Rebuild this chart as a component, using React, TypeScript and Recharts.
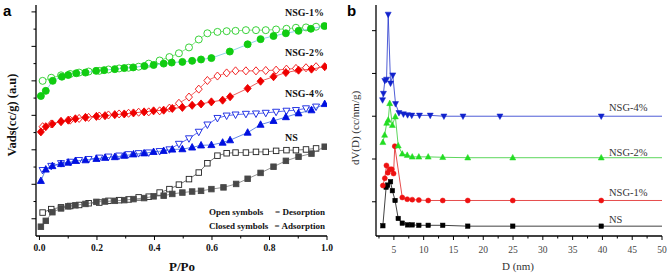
import React from 'react';
import { ScatterChart, Scatter, XAxis, YAxis } from 'recharts';

const SERIF = "'Liberation Serif', 'Times New Roman', serif";
const SANS = "'Liberation Sans', Arial, sans-serif";

// ---- panel a: N2 isotherms (stacked, a.u.) ----
const desP = [0.011, 0.041, 0.075, 0.107, 0.138, 0.171, 0.208, 0.24, 0.277, 0.31, 0.345, 0.38, 0.418, 0.452, 0.485, 0.52, 0.554, 0.584, 0.619, 0.651, 0.682, 0.718, 0.753, 0.787, 0.823, 0.859, 0.892, 0.927, 0.962];
const adsP_NS = [0.005, 0.022, 0.045, 0.075, 0.1, 0.125, 0.16, 0.198, 0.228, 0.262, 0.295, 0.327, 0.364, 0.397, 0.432, 0.462, 0.497, 0.531, 0.562, 0.598, 0.64, 0.684, 0.724, 0.769, 0.814, 0.857, 0.901, 0.946, 0.992];
const adsP_G = [0.005, 0.022, 0.045, 0.075, 0.1, 0.125, 0.16, 0.198, 0.228, 0.262, 0.295, 0.327, 0.364, 0.397, 0.432, 0.462, 0.497, 0.531, 0.562, 0.598, 0.637, 0.663, 0.724, 0.769, 0.814, 0.857, 0.901, 0.946, 0.992];
const adsP_1 = [0.005, 0.022, 0.046, 0.078, 0.1, 0.128, 0.16, 0.197, 0.225, 0.262, 0.295, 0.326, 0.365, 0.397, 0.432, 0.46, 0.497, 0.531, 0.562, 0.598, 0.662, 0.724, 0.769, 0.814, 0.857, 0.901, 0.944, 0.991];

const nsAds = [0.27, 0.44, 0.69, 0.8, 0.86, 0.89, 0.93, 0.99, 1.0, 1.02, 1.04, 1.07, 1.1, 1.15, 1.17, 1.22, 1.26, 1.29, 1.31, 1.36, 1.41, 1.51, 1.66, 1.83, 2.01, 2.18, 2.3, 2.39, 2.59];
const nsDes = [0.68, 0.78, 0.83, 0.87, 0.9, 0.95, 0.97, 1.02, 1.04, 1.06, 1.12, 1.14, 1.26, 1.36, 1.49, 1.65, 1.84, 2.11, 2.33, 2.4, 2.42, 2.42, 2.44, 2.44, 2.47, 2.49, 2.49, 2.51, 2.54];
const g4Ads = [1.6, 1.93, 2.03, 2.09, 2.13, 2.18, 2.2, 2.24, 2.27, 2.29, 2.33, 2.37, 2.4, 2.44, 2.47, 2.51, 2.52, 2.57, 2.63, 2.64, 2.71, 2.78, 3.0, 3.23, 3.34, 3.45, 3.56, 3.65, 3.83];
const g4Des = [1.91, 2.03, 2.11, 2.15, 2.2, 2.23, 2.27, 2.3, 2.33, 2.37, 2.4, 2.42, 2.46, 2.51, 2.67, 2.83, 3.02, 3.23, 3.42, 3.49, 3.52, 3.54, 3.55, 3.57, 3.6, 3.63, 3.65, 3.7, 3.75];
const g2Ads = [3.02, 3.17, 3.25, 3.32, 3.36, 3.4, 3.44, 3.47, 3.49, 3.52, 3.54, 3.57, 3.6, 3.63, 3.65, 3.7, 3.73, 3.79, 3.83, 3.89, 3.94, 4.04, 4.28, 4.49, 4.62, 4.74, 4.81, 4.84, 4.91];
const g2Des = [3.17, 3.25, 3.32, 3.36, 3.41, 3.44, 3.48, 3.51, 3.54, 3.56, 3.59, 3.6, 3.63, 3.71, 3.85, 4.03, 4.26, 4.51, 4.64, 4.73, 4.79, 4.79, 4.79, 4.8, 4.81, 4.84, 4.86, 4.88, 4.91];
const g1Ads = [4.06, 4.21, 4.5, 4.62, 4.67, 4.72, 4.74, 4.79, 4.81, 4.84, 4.87, 4.89, 4.93, 4.96, 5.0, 5.03, 5.05, 5.08, 5.12, 5.16, 5.35, 5.56, 5.71, 5.8, 5.88, 5.95, 6.01, 6.09];
const g1Des = [4.5, 4.59, 4.66, 4.7, 4.74, 4.77, 4.79, 4.83, 4.86, 4.88, 4.91, 5.0, 5.09, 5.19, 5.3, 5.47, 5.7, 5.88, 5.92, 5.94, 5.95, 5.97, 5.97, 5.97, 5.99, 6.01, 6.04, 6.05, 6.07];

const xTicksA = [0, 0.1, 0.2, 0.3, 0.4, 0.5, 0.6, 0.7, 0.8, 0.9, 1.0];
const yTicksA = [0.5, 1, 1.5, 2, 2.5, 3, 3.5, 4, 4.5, 5, 5.5, 6, 6.5];

// ---- panel b: pore size distribution (stacked) ----
const nsD = [3.15, 3.7, 3.95, 4.44, 4.75, 5.2, 5.73, 6.41, 7.3, 8.08, 9.19, 10.76, 13.2, 17.4, 24.95, 39.8, 50];
const nsV = [0.44, 1.34, 1.39, 1.47, 1.26, 1.03, 0.61, 0.5, 0.46, 0.46, 0.45, 0.45, 0.45, 0.43, 0.43, 0.43, 0.43];
const g1D = [3.15, 3.48, 3.75, 3.99, 4.32, 4.65, 4.95, 5.15, 6.41, 7.24, 8.08, 9.19, 10.76, 13.2, 17.4, 24.95, 39.8, 50];
const g1V = [1.38, 1.55, 1.85, 1.68, 1.76, 1.76, 1.66, 2.3, 1.1, 1.06, 1.05, 1.04, 1.03, 1.03, 1.03, 1.03, 1.03, 1.03];
const g2D = [3.15, 3.45, 3.8, 4.05, 4.3, 4.74, 5.25, 5.73, 6.41, 7.24, 8.08, 9.19, 10.76, 13.2, 17.4, 24.95, 39.8, 50];
const g2V = [2.39, 2.56, 2.84, 2.91, 3.3, 2.79, 2.99, 2.31, 2.12, 2.09, 2.05, 2.05, 2.05, 2.04, 2.03, 2.03, 2.03, 2.03];
const g4D = [3.1, 3.25, 3.48, 3.77, 4.05, 4.44, 4.82, 5.28, 5.85, 6.6, 7.3, 8.0, 9.3, 11.1, 13.4, 16.6, 22.8, 39.8, 50];
const g4V = [3.38, 3.53, 3.83, 3.86, 5.38, 3.77, 3.96, 3.29, 3.08, 3.05, 3.03, 3.02, 3.02, 3.02, 3.0, 3.0, 3.0, 3.0, 3.0];

const xTicksB = [2.5, 5, 7.5, 10, 12.5, 15, 17.5, 20, 22.5, 25, 27.5, 30, 32.5, 35, 37.5, 40, 42.5, 45, 47.5, 50];
const yTicksB = [1, 2, 3, 4, 5];

const pts = (xs: number[], ys: number[], end?: number) =>
  xs.map((x, i) => ({ x, y: ys[i], noMark: end !== undefined && x >= end }));

type Kind = 'circle' | 'square' | 'diamond' | 'up' | 'down';

function marker(kind: Kind, color: string, open: boolean, s: number, sw = 0.9) {
  return (p: any) => {
    const { cx, cy, payload } = p;
    if (cx == null || cy == null || (payload && payload.noMark)) return <g />;
    const fill = open ? '#fff' : color;
    const h = s / 2;
    const common = { fill, stroke: color, strokeWidth: sw };
    if (kind === 'circle') return <circle cx={cx} cy={cy} r={h} {...common} />;
    if (kind === 'square') return <rect x={cx - h} y={cy - h} width={s} height={s} {...common} />;
    if (kind === 'diamond')
      return <polygon points={`${cx},${cy - h * 1.15} ${cx + h},${cy} ${cx},${cy + h * 1.15} ${cx - h},${cy}`} {...common} />;
    if (kind === 'up')
      return <polygon points={`${cx},${cy - h * 1.1} ${cx + h},${cy + h * 0.75} ${cx - h},${cy + h * 0.75}`} {...common} />;
    return <polygon points={`${cx},${cy + h * 1.1} ${cx + h},${cy - h * 0.75} ${cx - h},${cy - h * 0.75}`} {...common} />;
  };
}

const xTickA = (p: any) => {
  const v = p.payload.value;
  const major = Math.round(v * 10) % 2 === 0;
  return (
    <g>
      <line x1={p.x} x2={p.x} y1={p.y} y2={p.y + (major ? 4 : 2.5)} stroke="#000" strokeWidth={1} />
      {major && (
        <text x={p.x} y={p.y + 15} textAnchor="middle" fontFamily={SERIF} fontWeight="bold" fontSize={9.5} fill="#111">
          {v.toFixed(1)}
        </text>
      )}
    </g>
  );
};

const yTickA = (p: any) => {
  const v = p.payload.value;
  const major = Math.abs((v % 1) - 0.5) < 0.01;
  return <line x1={p.x} x2={p.x - (major ? 4.5 : 2.5)} y1={p.y} y2={p.y} stroke="#000" strokeWidth={1} />;
};

const xTickB = (p: any) => {
  const v = p.payload.value;
  const major = v % 5 === 0;
  return (
    <g>
      <line x1={p.x} x2={p.x} y1={p.y} y2={p.y + (major ? 4 : 2.5)} stroke="#000" strokeWidth={1} />
      {major && (
        <text x={p.x} y={p.y + 17} textAnchor="middle" fontFamily={SERIF} fontSize={9.5} fill="#444">
          {v}
        </text>
      )}
    </g>
  );
};

const yTickB = (p: any) => <line x1={p.x} x2={p.x - 4} y1={p.y} y2={p.y} stroke="#000" strokeWidth={1} />;

const axisLine = { stroke: '#000', strokeWidth: 1.3 };

function PanelA() {
  return (
    <ScatterChart width={340} height={274} margin={{ top: 5, right: 13, bottom: 0, left: 0 }}>
      <XAxis type="number" dataKey="x" domain={[-0.012, 1]} allowDataOverflow ticks={xTicksA} interval={0}
        tickSize={0} tickMargin={0} tickLine={false} axisLine={axisLine} tick={xTickA} height={38} />
      <YAxis type="number" dataKey="y" domain={[0, 6.7]} allowDataOverflow ticks={yTicksA} interval={0}
        tickSize={0} tickMargin={0} tickLine={false} axisLine={axisLine} tick={yTickA} width={36} />
      <Scatter data={pts(desP, nsDes)} line={{ stroke: '#555', strokeWidth: 0.8 }} lineType="joint"
        shape={marker('square', '#222', true, 5.5)} isAnimationActive={false} />
      <Scatter data={pts(adsP_NS, nsAds)} line={{ stroke: '#777', strokeWidth: 0.8 }} lineType="joint"
        shape={marker('square', '#484848', false, 5.5)} isAnimationActive={false} />
      <Scatter data={pts(desP, g4Des)} line={{ stroke: '#3344ee', strokeWidth: 0.8 }} lineType="joint"
        shape={marker('down', '#1020e0', true, 7)} isAnimationActive={false} />
      <Scatter data={pts(adsP_G, g4Ads)} line={{ stroke: '#3a6ae0', strokeWidth: 0.8 }} lineType="joint"
        shape={marker('up', '#0010e0', false, 7)} isAnimationActive={false} />
      <Scatter data={pts(desP, g2Des)} line={{ stroke: '#f04040', strokeWidth: 0.8 }} lineType="joint"
        shape={marker('diamond', '#f01010', true, 7)} isAnimationActive={false} />
      <Scatter data={pts(adsP_G, g2Ads)} line={{ stroke: '#e83030', strokeWidth: 0.8 }} lineType="joint"
        shape={marker('diamond', '#ee0000', false, 7)} isAnimationActive={false} />
      <Scatter data={pts(desP, g1Des)} line={{ stroke: '#66dd66', strokeWidth: 0.8 }} lineType="joint"
        shape={marker('circle', '#22cc22', true, 7)} isAnimationActive={false} />
      <Scatter data={pts(adsP_1, g1Ads)} line={{ stroke: '#70c8e0', strokeWidth: 0.8 }} lineType="joint"
        shape={marker('circle', '#11cc11', false, 7)} isAnimationActive={false} />
    </ScatterChart>
  );
}

function PanelB() {
  return (
    <ScatterChart width={329} height={274} margin={{ top: 5, right: 7, bottom: 0, left: 0 }}>
      <XAxis type="number" dataKey="x" domain={[2, 50]} allowDataOverflow ticks={xTicksB} interval={0}
        tickSize={0} tickMargin={0} tickLine={false} axisLine={axisLine} tick={xTickB} height={38} />
      <YAxis type="number" dataKey="y" domain={[0.2, 5.6]} allowDataOverflow ticks={yTicksB} interval={0}
        tickSize={0} tickMargin={0} tickLine={false} axisLine={axisLine} tick={yTickB} width={36} />
      <Scatter data={pts(nsD, nsV, 50)} line={{ stroke: '#111', strokeWidth: 0.8 }} lineType="joint"
        shape={marker('square', '#000', false, 4.5, 0.5)} isAnimationActive={false} />
      <Scatter data={pts(g1D, g1V, 50)} line={{ stroke: '#e02020', strokeWidth: 0.8 }} lineType="joint"
        shape={marker('circle', '#ee1111', false, 5, 0.5)} isAnimationActive={false} />
      <Scatter data={pts(g2D, g2V, 50)} line={{ stroke: '#33cc33', strokeWidth: 0.8 }} lineType="joint"
        shape={marker('up', '#22dd22', false, 6, 0.5)} isAnimationActive={false} />
      <Scatter data={pts(g4D, g4V, 50)} line={{ stroke: '#2233cc', strokeWidth: 0.8 }} lineType="joint"
        shape={marker('down', '#1122cc', false, 6, 0.5)} isAnimationActive={false} />
    </ScatterChart>
  );
}

function Labels() {
  const b = { fontFamily: SERIF, fontWeight: 'bold' as const, fill: '#111' };
  const r = { fontFamily: SERIF, fill: '#333' };
  return (
    <svg width={669} height={274} style={{ position: 'absolute', left: 0, top: 0, pointerEvents: 'none' }}>
      <text x={3} y={16} fontFamily={SANS} fontWeight="bold" fontSize={15}>a</text>
      <text x={347} y={16} fontFamily={SANS} fontWeight="bold" fontSize={15}>b</text>
      <text {...b} fontSize={12.5} transform="translate(16,115) rotate(-90)" textAnchor="middle">Vads(cc/g) (a.u)</text>
      <text {...b} fontSize={13} x={182} y={271} textAnchor="middle">P/Po</text>
      <text {...b} fontSize={10} x={285} y={16}>NSG-1%</text>
      <text {...b} fontSize={10} x={285} y={56}>NSG-2%</text>
      <text {...b} fontSize={10} x={285} y={97}>NSG-4%</text>
      <text {...b} fontSize={10} x={285} y={141}>NS</text>
      <text {...b} fontSize={9} x={209} y={215}>Open symbols</text>
      <text {...b} fontSize={9} x={325} y={215} textAnchor="end">= Desorption</text>
      <text {...b} fontSize={9} x={209} y={229}>Closed symbols</text>
      <text {...b} fontSize={9} x={325} y={229} textAnchor="end">= Adsorption</text>
      <text {...r} fontSize={11} transform="translate(359,128) rotate(-90)" textAnchor="middle">dV(D) (cc/nm/g)</text>
      <text {...r} fontSize={11} x={518} y={270} textAnchor="middle">D (nm)</text>
      <text {...r} fontSize={10.5} x={609} y={111}>NSG-4%</text>
      <text {...r} fontSize={10.5} x={609} y={156}>NSG-2%</text>
      <text {...r} fontSize={10.5} x={609} y={196}>NSG-1%</text>
      <text {...r} fontSize={10.5} x={609} y={223}>NS</text>
    </svg>
  );
}

export default function App() {
  return (
    <div style={{ position: 'absolute', left: 0, top: 0, width: 669, height: 274, background: '#fff', overflow: 'hidden' }}>
      <div style={{ position: 'absolute', left: 0, top: 0 }}>
        <PanelA />
      </div>
      <div style={{ position: 'absolute', left: 340, top: 0 }}>
        <PanelB />
      </div>
      <Labels />
    </div>
  );
}
